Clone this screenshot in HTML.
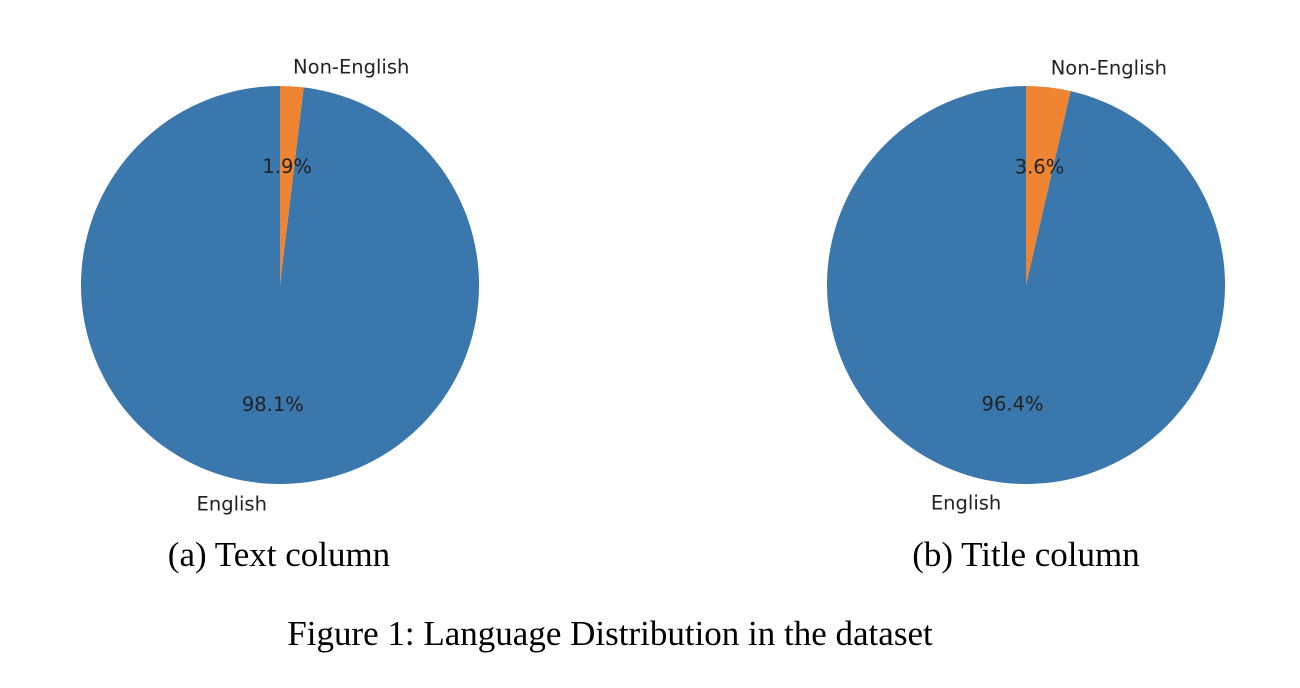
<!DOCTYPE html>
<html><head><meta charset="utf-8"><style>
body{margin:0;background:#fff;width:1300px;height:688px;overflow:hidden}
svg{display:block}
.lbl{font-family:"DejaVu Sans",sans-serif;font-size:19.5px;fill:#222}
.cap{font-family:"Liberation Serif",serif;font-size:35px;fill:#000}
</style></head><body>
<svg id="chart" width="1300" height="688">
<text class="cap" x="279" y="566" text-anchor="middle">(a) Text column</text>
<text class="cap" x="1026" y="566" text-anchor="middle">(b) Title column</text>
<text class="cap" x="610" y="645" text-anchor="middle">Figure 1: Language Distribution in the dataset</text>
</svg>
<script>
const categories = ["English", "Non-English"];
const textColumnValues = [98.1, 1.9];
const titleColumnValues = [96.4, 3.6];
const colors = ["#3a77ad", "#ef8432"];
const svg = document.getElementById('chart');
const NS = 'http://www.w3.org/2000/svg';
function pie(cx, cy, r, values, name) {
  const g = document.createElementNS(NS, 'g');
  
  
  svg.appendChild(g);
  const total = values.reduce((a, b) => a + b, 0);
  let start = 90;
  values.forEach((v, i) => {
    const sweep = v / total * 360;
    const end = start + sweep;
    const a0 = start * Math.PI / 180, a1 = end * Math.PI / 180;
    const x0 = cx + r * Math.cos(a0), y0 = cy - r * Math.sin(a0);
    const x1 = cx + r * Math.cos(a1), y1 = cy - r * Math.sin(a1);
    const large = sweep > 180 ? 1 : 0;
    const p = document.createElementNS(NS, 'path');
    p.setAttribute('d', `M${cx},${cy} L${x0},${y0} A${r},${r} 0 ${large} 0 ${x1},${y1} Z`);
    p.setAttribute('fill', colors[i]);
    
    
    g.appendChild(p);
    const mid = (start + end) / 2 * Math.PI / 180;
    const lx = cx + 1.1 * r * Math.cos(mid), ly = cy - 1.1 * r * Math.sin(mid);
    const t = document.createElementNS(NS, 'text');
    t.setAttribute('class', 'lbl');
    t.setAttribute('x', lx); t.setAttribute('y', ly + 7);
    t.setAttribute('text-anchor', Math.cos(mid) < 0 ? 'end' : 'start');
    t.textContent = categories[i];
    
    
    g.appendChild(t);
    const px = cx + 0.6 * r * Math.cos(mid), py = cy - 0.6 * r * Math.sin(mid);
    const pt = document.createElementNS(NS, 'text');
    pt.setAttribute('class', 'lbl');
    pt.setAttribute('x', px); pt.setAttribute('y', py + 7);
    pt.setAttribute('text-anchor', 'middle');
    pt.textContent = v.toFixed(1) + '%';
    
    
    g.appendChild(pt);
    start = end;
  });
}
pie(280, 285, 199, textColumnValues, 'pie-text-column');
pie(1026, 285, 199, titleColumnValues, 'pie-title-column');
</script>
</body></html>
